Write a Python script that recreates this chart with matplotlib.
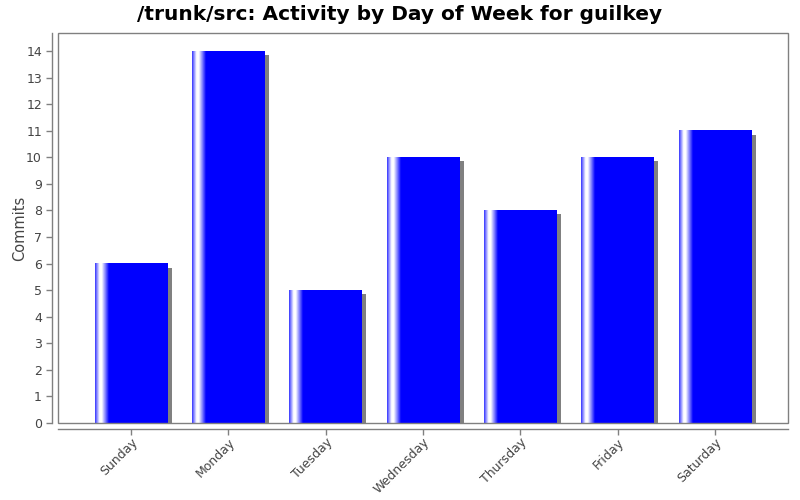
import matplotlib
matplotlib.use("Agg")
import matplotlib.pyplot as plt
import numpy as np
from matplotlib.patches import Rectangle
from matplotlib.colors import LinearSegmentedColormap

days = ["Sunday", "Monday", "Tuesday", "Wednesday", "Thursday", "Friday", "Saturday"]
commits = [6, 14, 5, 10, 8, 10, 11]

fig = plt.figure(figsize=(8, 5), dpi=100)
ax = fig.add_axes([58 / 800, 77 / 500, 730 / 800, 390 / 500])

bar_w = 0.75
shadow_dx = 4 / 97.3
shadow_dy = 4 / 26.57

# gradient highlight near the left edge of each bar
cmap = LinearSegmentedColormap.from_list(
    "bar", [(0.0, "#3a3aff"), (0.06, "#ffffff"), (0.09, "#ffffff"),
            (0.19, "#0000ff"), (1.0, "#0000ff")])
grad = np.linspace(0, 1, 300).reshape(1, -1)

for i, v in enumerate(commits):
    left = i - bar_w / 2
    ax.add_patch(Rectangle((left + shadow_dx, 0), bar_w, v - shadow_dy,
                           facecolor="#808080", edgecolor="none", zorder=1))
    ax.imshow(grad, cmap=cmap, aspect="auto", extent=(left, left + bar_w, 0, v),
              interpolation="bilinear", zorder=2)

ax.set_xlim(-0.75, 6.75)
ax.set_ylim(0, 14.68)

ax.set_xticks(range(len(days)))
ax.set_xticklabels(days)
ax.set_yticks(range(0, 15))

for s in ax.spines.values():
    s.set_color("#808080")
    s.set_linewidth(1)
ax.spines["left"].set_position(("outward", 4))
ax.spines["bottom"].set_position(("outward", 4))
ax.spines["top"].set_visible(False)
ax.spines["right"].set_visible(False)
ax.add_patch(Rectangle((0, 0), 1, 1, transform=ax.transAxes, fill=False,
                       edgecolor="#808080", linewidth=1, clip_on=False, zorder=5))

ax.tick_params(axis="both", colors="#808080", labelcolor="#444444",
               labelsize=9, length=4, width=1)
ax.tick_params(axis="x", pad=1)
for lbl in ax.get_xticklabels():
    lbl.set_rotation(45)
    lbl.set_ha("right")
    lbl.set_rotation_mode("anchor")

ax.set_ylabel("Commits", fontsize=10.5, color="#444444")
ax.yaxis.set_label_coords(-31 / 730, 0.5)
fig.text(0.5, 0.972, "/trunk/src: Activity by Day of Week for guilkey",
         ha="center", va="center", fontsize=14.5, fontweight="bold")

fig.savefig("out.png", dpi=100)
